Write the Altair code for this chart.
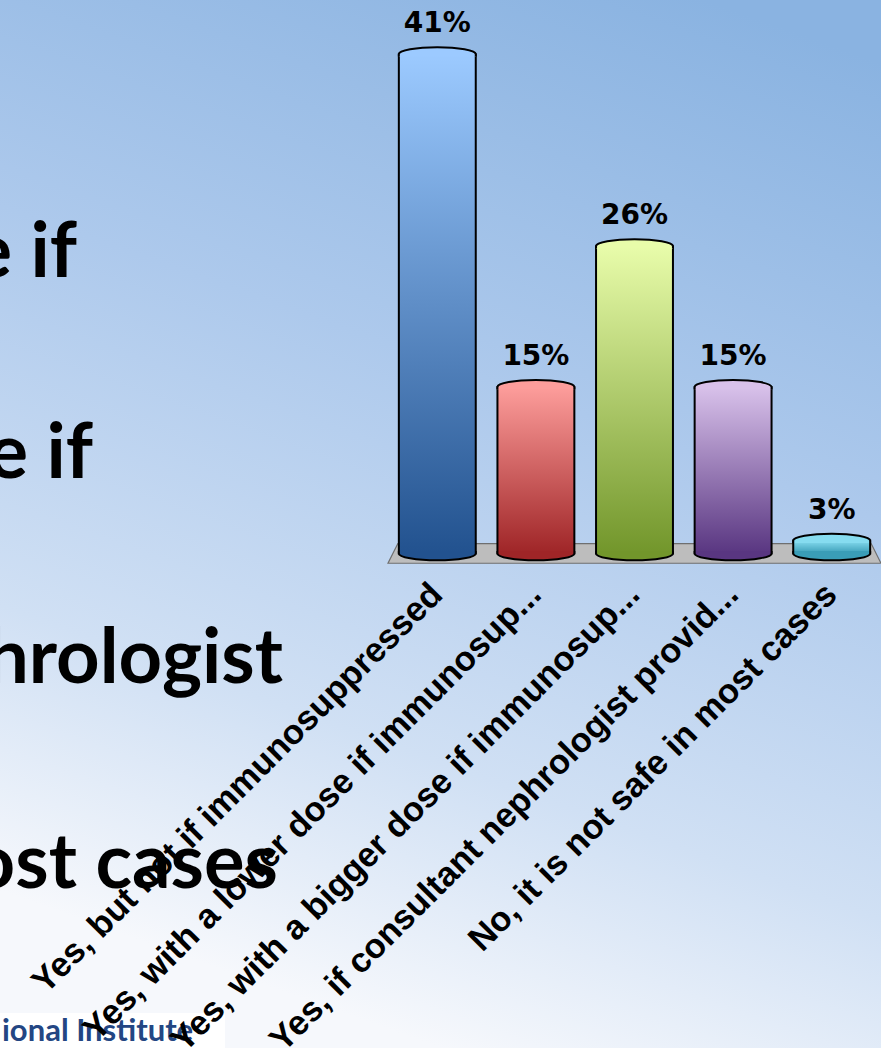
import altair as alt
import pandas as pd

# ---- data -------------------------------------------------------------
answers = [
    "Yes, but not if immunosuppressed",
    "Yes, with a lower dose if immunosup...",
    "Yes, with a bigger dose if immunosup...",
    "Yes, if consultant nephrologist provid...",
    "No, it is not safe in most cases",
]
shares = [41, 15, 26, 15, 3]
top_colors = ["#9ccaff", "#fd9d9b", "#e8fcaa", "#d8c1ea", "#86dcf0"]
bottom_colors = ["#22528f", "#9f2527", "#72962b", "#593681", "#3a9db7"]

# slide text fragments visible behind the chart
slide_lines = ["e if", "e if", "hrologist", "ost cases"]
footer_text = "ional Institute"

# ---- layout -----------------------------------------------------------
W, H = 493, 576
PAD_L, PAD_T, PAD_B = 388, 3, 469
FULL_W, FULL_H = 881, 1048
FLOOR = 2          # value level where the cylinders stand on the floor
PAD_IN, PAD_OUT = 0.22, 0.11
step = W / (len(answers) - PAD_IN + 2 * PAD_OUT)
band = step * (1 - PAD_IN)

TOP_CAP = ("M -1 0.06 L -1 0 C -1 -0.0994 -0.5523 -0.18 0 -0.18 "
           "C 0.5523 -0.18 1 -0.0994 1 0 L 1 0.06")
BOTTOM_CAP = ("M -1 -0.06 L -1 0 C -1 0.0994 -0.5523 0.18 0 0.18 "
              "C 0.5523 0.18 1 0.0994 1 0 L 1 -0.06")
FLOOR_SHAPE = "M -0.96 -0.04 L 0.96 -0.04 L 1 0.04 L -1 0.04 Z"

df = pd.DataFrame({"answer": answers, "share": shares})
df["floor"] = FLOOR
df["label"] = [f"{v}%" for v in shares]

yscale = alt.Scale(domain=[0, 45])


def xenc():
    return alt.X(
        "answer:N",
        sort=answers,
        scale=alt.Scale(paddingInner=PAD_IN, paddingOuter=PAD_OUT),
        axis=alt.Axis(
            title=None, labelAngle=-45, labelAlign="right", labelBaseline="middle",
            labelFont="Liberation Sans", labelFontWeight="bold", labelFontSize=34.5,
            labelColor="black", labelLimit=0, labelPadding=10, ticks=False,
            domain=False, grid=False, labelOverlap=False, zindex=1,
        ),
    )


def yenc(field):
    return alt.Y(f"{field}:Q", scale=yscale, axis=None)


layers = []

# slide background
bg = alt.Chart(pd.DataFrame({"k": [0]})).mark_rect(
    color=alt.Gradient(
        gradient="linear", x1=0.8, y1=0, x2=0.5, y2=1,
        stops=[
            alt.GradientStop(color="#8ab3e1", offset=0),
            alt.GradientStop(color="#adc9ec", offset=0.4),
            alt.GradientStop(color="#d0e0f4", offset=0.75),
            alt.GradientStop(color="#f6f8fc", offset=1),
        ],
    )
).encode(
    x=alt.value(-PAD_L), x2=alt.value(FULL_W - PAD_L),
    y=alt.value(-PAD_T), y2=alt.value(FULL_H - PAD_T),
)
layers.append(bg)

# large slide text (right edge, baseline in page pixels)
slide_pos = [(77, 277), (93, 478), (283, 683), (278, 888)]
for line, (xr, yb) in zip(slide_lines, slide_pos):
    layers.append(
        alt.Chart(pd.DataFrame({"t": [line]})).mark_text(
            align="right", baseline="alphabetic", font="Lato", fontWeight="bold",
            fontSize=76, color="black",
        ).encode(x=alt.value(xr - PAD_L), y=alt.value(yb - PAD_T), text="t:N")
    )

# footer logo strip
layers.append(
    alt.Chart(pd.DataFrame({"k": [0]})).mark_rect(color="white").encode(
        x=alt.value(-PAD_L), x2=alt.value(225 - PAD_L),
        y=alt.value(1013 - PAD_T), y2=alt.value(FULL_H - PAD_T),
    )
)
layers.append(
    alt.Chart(pd.DataFrame({"t": [footer_text]})).mark_text(
        align="left", baseline="alphabetic", font="Lato", fontWeight="bold",
        fontSize=31, color="#234683",
    ).encode(x=alt.value(2 - PAD_L), y=alt.value(1041 - PAD_T), text="t:N")
)

# floor of the 3-D chart
layers.append(
    alt.Chart(pd.DataFrame({"level": [FLOOR]})).mark_point(
        shape=FLOOR_SHAPE, size=W ** 2, filled=True, fill="#bdbdbd",
        stroke="#6f6f6f", strokeWidth=1.2, opacity=1,
    ).encode(x=alt.value(W / 2), y=yenc("level"))
)

base = alt.Chart(df)
for ans, top, bottom in zip(answers, top_colors, bottom_colors):
    sel = base.transform_filter(alt.datum.answer == ans)
    grad = alt.Gradient(
        gradient="linear", x1=0, x2=0, y1=0, y2=1,
        stops=[alt.GradientStop(color=top, offset=0),
               alt.GradientStop(color=bottom, offset=1)],
    )
    layers.append(
        sel.mark_bar(color=grad, stroke="black", strokeWidth=2).encode(
            x=xenc(), y=yenc("share"), y2=alt.Y2("floor:Q")
        )
    )
    layers.append(
        sel.mark_point(
            shape=BOTTOM_CAP, size=band ** 2, filled=True, fill=bottom,
            stroke="black", strokeWidth=2, opacity=1,
        ).encode(x=xenc(), y=yenc("floor"))
    )
    layers.append(
        sel.mark_point(
            shape=TOP_CAP, size=band ** 2, filled=True, fill=top,
            stroke="black", strokeWidth=2, opacity=1,
        ).encode(x=xenc(), y=yenc("share"))
    )

# value labels
layers.append(
    base.mark_text(
        font="DejaVu Sans", fontWeight="bold", fontSize=28, dy=-22,
        baseline="alphabetic", color="black",
    ).encode(x=xenc(), y=yenc("share"), text="label:N")
)

chart = alt.layer(*layers).properties(
    width=W, height=H,
    padding={"left": PAD_L, "top": PAD_T, "right": FULL_W - PAD_L - W, "bottom": PAD_B},
    autosize=alt.AutoSizeParams(type="none"),
    background="white",
).configure_view(stroke=None)

chart.save("out.html", embed_options={"renderer": "svg", "actions": False})
